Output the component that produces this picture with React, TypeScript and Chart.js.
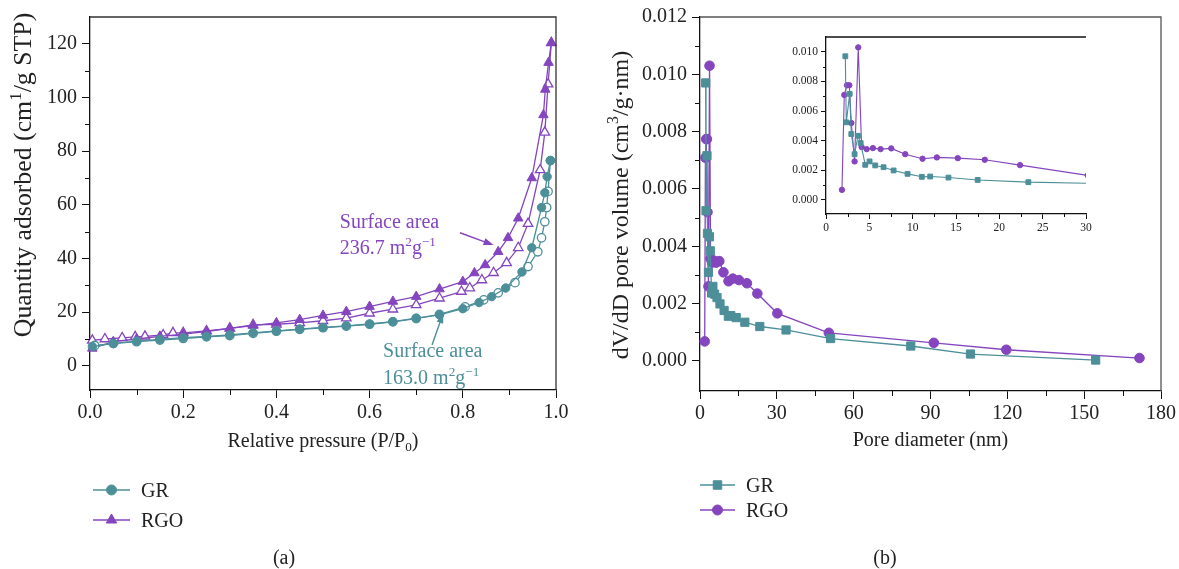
import React, { useEffect, useRef } from 'react';
import { Chart, registerables } from 'chart.js';
Chart.register(...registerables);

// ---------- Panel (a): N2 adsorption-desorption isotherms ----------
const grAdsP = [0.005, 0.05, 0.1, 0.15, 0.2, 0.25, 0.3, 0.35, 0.4, 0.45, 0.5, 0.55, 0.6, 0.65, 0.7, 0.75, 0.8, 0.835, 0.862, 0.892, 0.927, 0.948, 0.969, 0.976, 0.981, 0.988];
const grAdsQ = [7.2, 8.4, 9.2, 9.9, 10.5, 11.0, 11.5, 12.3, 13.0, 13.7, 14.3, 14.9, 15.6, 16.5, 17.8, 19.0, 21.3, 23.6, 25.8, 29.0, 35.0, 44.0, 59.0, 64.5, 70.5, 76.5];
const grDesP = [0.988, 0.983, 0.98, 0.976, 0.969, 0.961, 0.94, 0.912, 0.876, 0.845, 0.805, 0.75, 0.7, 0.65, 0.6, 0.55, 0.5, 0.45, 0.4, 0.35, 0.3, 0.25, 0.2, 0.15, 0.1, 0.05, 0.01];
const grDesQ = [76.5, 65.0, 59.0, 53.7, 47.7, 42.5, 37.0, 31.0, 27.2, 24.6, 22.0, 19.2, 17.6, 16.4, 15.5, 14.8, 14.2, 13.6, 12.9, 12.1, 11.3, 10.8, 10.2, 9.6, 9.0, 8.3, 7.6];
const rgoAdsP = [0.005, 0.05, 0.1, 0.15, 0.2, 0.25, 0.3, 0.35, 0.4, 0.45, 0.5, 0.55, 0.6, 0.65, 0.7, 0.75, 0.8, 0.825, 0.848, 0.876, 0.897, 0.919, 0.948, 0.973, 0.977, 0.984, 0.99];
const rgoAdsQ = [6.5, 9.0, 10.0, 11.0, 11.8, 12.8, 14.0, 15.0, 16.0, 17.2, 18.8, 20.2, 22.1, 24.0, 25.8, 28.6, 31.4, 34.6, 37.6, 42.5, 47.7, 55.0, 70.0, 93.5, 103.0, 113.0, 120.4];
const rgoDesP = [0.99, 0.983, 0.976, 0.966, 0.94, 0.919, 0.894, 0.866, 0.841, 0.815, 0.797, 0.75, 0.7, 0.65, 0.6, 0.55, 0.5, 0.45, 0.4, 0.35, 0.3, 0.25, 0.2, 0.178, 0.157, 0.118, 0.097, 0.069, 0.032, 0.005];
const rgoDesQ = [120.4, 105.0, 87.0, 73.0, 53.0, 44.0, 38.4, 34.7, 32.0, 29.0, 27.7, 25.2, 22.7, 21.1, 19.6, 17.8, 16.8, 16.0, 15.5, 15.3, 14.0, 13.0, 12.3, 12.3, 11.5, 11.0, 10.8, 10.4, 10.0, 9.5];

// ---------- Panel (b): pore size distribution ----------
const grPoreD = [2.23, 2.34, 2.73, 2.92, 3.3, 3.69, 4.0, 4.53, 5.03, 5.68, 6.64, 7.8, 9.41, 11.06, 12.02, 14.13, 17.5, 23.35, 33.6, 51.0, 82.3, 105.6, 154.5];
const grPoreV = [0.0097, 0.00524, 0.00716, 0.00445, 0.00309, 0.00433, 0.00384, 0.00237, 0.0026, 0.00233, 0.00221, 0.00199, 0.00176, 0.00156, 0.00158, 0.00151, 0.00135, 0.0012, 0.00108, 0.00078, 0.00052, 0.00024, 0.00003];
const rgoPoreD = [1.84, 2.11, 2.42, 2.69, 2.92, 3.3, 3.72, 4.11, 4.69, 5.41, 6.3, 7.53, 9.14, 11.14, 12.79, 15.21, 18.32, 22.39, 30.2, 50.3, 91.3, 119.6, 171.6];
const rgoPoreV = [0.00068, 0.00709, 0.00774, 0.00774, 0.00519, 0.0026, 0.0103, 0.00357, 0.00343, 0.0035, 0.00343, 0.00348, 0.00309, 0.00278, 0.00287, 0.00282, 0.00271, 0.00235, 0.00166, 0.00098, 0.00063, 0.00039, 0.0001];

// ---------- ticks ----------
const aXTicks = [0, 0.2, 0.4, 0.6, 0.8, 1.0];
const aXMinor = [0.1, 0.3, 0.5, 0.7, 0.9];
const aYTicks = [0, 20, 40, 60, 80, 100, 120];
const aYMinor = [10, 30, 50, 70, 90, 110];
const bXTicks = [0, 30, 60, 90, 120, 150, 180];
const bXMinor = [15, 45, 75, 105, 135, 165];
const bYTicks = [0, 0.002, 0.004, 0.006, 0.008, 0.01, 0.012];
const bYMinor = [0.001, 0.003, 0.005, 0.007, 0.009, 0.011];
const iXTicks = [0, 5, 10, 15, 20, 25, 30];
const iXMinor = [2.5, 7.5, 12.5, 17.5, 22.5, 27.5];
const iYTicks = [0, 0.002, 0.004, 0.006, 0.008, 0.01];
const iYMinor = [0.001, 0.003, 0.005, 0.007, 0.009];

const seriesNames = ['GR', 'RGO'];

const GR_COLOR = '#4d8f99';
const RGO_COLOR = '#8445be';
const FONT = '"Liberation Serif", "DejaVu Serif", serif';
const TEXT = '#222';

type Seg = { t: string; s?: 'sup' | 'sub' };

const toXY = (xs: number[], ys: number[]) => xs.map((x, i) => ({ x, y: ys[i] }));

function drawRich(ctx: CanvasRenderingContext2D, segs: Seg[], x: number, y: number, size: number, color: string, align: 'left' | 'center', rot = 0) {
  ctx.save();
  ctx.translate(x, y);
  ctx.rotate(rot);
  let w = 0;
  const parts = segs.map((sg) => {
    const fs = sg.s ? size * 0.66 : size;
    ctx.font = `${fs}px ${FONT}`;
    const mw = ctx.measureText(sg.t).width;
    w += mw;
    return { sg, fs, mw };
  });
  let cx = align === 'center' ? -w / 2 : 0;
  ctx.fillStyle = color;
  ctx.textAlign = 'left';
  ctx.textBaseline = 'alphabetic';
  for (const p of parts) {
    ctx.font = `${p.fs}px ${FONT}`;
    const dy = p.sg.s === 'sup' ? -size * 0.4 : p.sg.s === 'sub' ? size * 0.22 : 0;
    ctx.fillText(p.sg.t, cx, dy);
    cx += p.mw;
  }
  ctx.restore();
}

function drawMarker(ctx: CanvasRenderingContext2D, style: string, x: number, y: number, r: number, fill: string, stroke: string) {
  ctx.beginPath();
  if (style === 'circle') ctx.arc(x, y, r, 0, Math.PI * 2);
  else if (style === 'triangle') {
    ctx.moveTo(x, y - r);
    ctx.lineTo(x - r * 0.866, y + r * 0.5);
    ctx.lineTo(x + r * 0.866, y + r * 0.5);
    ctx.closePath();
  } else {
    const s = r * Math.SQRT1_2;
    ctx.rect(x - s, y - s, 2 * s, 2 * s);
  }
  ctx.fillStyle = fill;
  ctx.fill();
  ctx.strokeStyle = stroke;
  ctx.lineWidth = 1;
  ctx.stroke();
}

function drawArrow(ctx: CanvasRenderingContext2D, x1: number, y1: number, x2: number, y2: number, color: string) {
  const ang = Math.atan2(y2 - y1, x2 - x1);
  const hl = 10, hw = 3.5;
  ctx.save();
  ctx.strokeStyle = color;
  ctx.fillStyle = color;
  ctx.lineWidth = 1.4;
  ctx.beginPath();
  ctx.moveTo(x1, y1);
  ctx.lineTo(x2 - Math.cos(ang) * hl * 0.8, y2 - Math.sin(ang) * hl * 0.8);
  ctx.stroke();
  ctx.beginPath();
  ctx.moveTo(x2, y2);
  ctx.lineTo(x2 - Math.cos(ang) * hl - Math.sin(ang) * hw, y2 - Math.sin(ang) * hl + Math.cos(ang) * hw);
  ctx.lineTo(x2 - Math.cos(ang) * hl + Math.sin(ang) * hw, y2 - Math.sin(ang) * hl - Math.cos(ang) * hw);
  ctx.closePath();
  ctx.fill();
  ctx.restore();
}

function minorTicks(ctx: CanvasRenderingContext2D, scale: any, values: number[], len: number, color: string) {
  ctx.save();
  ctx.strokeStyle = color;
  ctx.lineWidth = 1;
  ctx.beginPath();
  for (const v of values) {
    const p = Math.round(scale.getPixelForValue(v)) + 0.5;
    if (scale.axis === 'x') {
      ctx.moveTo(p, scale.top);
      ctx.lineTo(p, scale.top + len);
    } else {
      ctx.moveTo(scale.right, p);
      ctx.lineTo(scale.right - len, p);
    }
  }
  ctx.stroke();
  ctx.restore();
}

function frame(ctx: CanvasRenderingContext2D, ca: any, color: string, right = true) {
  ctx.save();
  ctx.strokeStyle = color;
  ctx.lineWidth = 1.3;
  ctx.beginPath();
  ctx.moveTo(ca.left, ca.top);
  ctx.lineTo(ca.right, ca.top);
  if (right) ctx.lineTo(ca.right, ca.bottom);
  ctx.stroke();
  ctx.restore();
}

function legendRow(ctx: CanvasRenderingContext2D, x: number, y: number, w: number, color: string, style: string, r: number, label: string) {
  ctx.save();
  ctx.strokeStyle = color;
  ctx.lineWidth = 1.4;
  ctx.beginPath();
  ctx.moveTo(x, y);
  ctx.lineTo(x + w, y);
  ctx.stroke();
  drawMarker(ctx, style, x + w / 2, y, r, color, color);
  ctx.restore();
  drawRich(ctx, [{ t: label }], x + w + 11, y + 7, 20, TEXT, 'left');
}

function axisCfg(min: number, max: number, ticks: number[], fmt: (v: number) => string, fontSize: number, tickLen: number, fitSize: number, pad: number) {
  return {
    type: 'linear' as const,
    min,
    max,
    afterBuildTicks: (s: any) => {
      s.ticks = ticks.map((v) => ({ value: v }));
    },
    afterFit: (s: any) => {
      if (s.axis === 'x') s.height = fitSize;
      else s.width = fitSize;
    },
    grid: { drawOnChartArea: false, drawTicks: true, tickLength: tickLen, tickColor: '#111', tickWidth: 1 },
    border: { display: true, color: '#111', width: 1.3 },
    ticks: { font: { family: FONT, size: fontSize }, color: TEXT, padding: pad, maxRotation: 0, autoSkip: false, callback: (v: any) => fmt(Number(v)) },
  };
}

const surfaceNotes = [
  { name: 'RGO', value: '236.7', color: RGO_COLOR, textP: 0.536, textQ1: 51.5, textQ2: 41.8, arrowFrom: [0.794, 49.6], arrowTo: [0.866, 45.0] },
  { name: 'GR', value: '163.0', color: GR_COLOR, textP: 0.629, textQ1: 3.3, textQ2: -6.7, arrowFrom: [0.734, 7.8], arrowTo: [0.758, 19.6] },
];

export default function App() {
  const refA = useRef<HTMLCanvasElement>(null);
  const refB = useRef<HTMLCanvasElement>(null);
  const refI = useRef<HTMLCanvasElement>(null);

  useEffect(() => {
    const lineDs = (label: string, data: any[], color: string, style: string, r: number, open: boolean) => ({
      label,
      data,
      borderColor: color,
      backgroundColor: color,
      borderWidth: 1.3,
      pointStyle: style,
      pointRadius: r,
      pointBorderWidth: open ? 1.3 : 1,
      pointBorderColor: color,
      pointBackgroundColor: open ? '#ffffff' : color,
      tension: 0,
      fill: false,
      clip: false as any,
    });

    const decorA = {
      id: 'decorA',
      afterDraw(chart: any) {
        const { ctx, chartArea: ca, scales } = chart;
        const x = scales.x, y = scales.y;
        frame(ctx, ca, '#333');
        minorTicks(ctx, x, aXMinor, 5, '#111');
        minorTicks(ctx, y, aYMinor, 5, '#111');
        drawRich(ctx, [{ t: 'Relative pressure (P/P' }, { t: '0', s: 'sub' }, { t: ')' }], (ca.left + ca.right) / 2, 447, 20, TEXT, 'center');
        drawRich(ctx, [{ t: 'Quantity adsorbed (cm' }, { t: '1', s: 'sup' }, { t: '/g STP)' }], 31, 175, 25.8, TEXT, 'center', -Math.PI / 2);
        for (const n of surfaceNotes) {
          const tx = x.getPixelForValue(n.textP);
          drawRich(ctx, [{ t: 'Surface area' }], tx, y.getPixelForValue(n.textQ1), 20, n.color, 'left');
          drawRich(ctx, [{ t: n.value + ' m' }, { t: '2', s: 'sup' }, { t: 'g' }, { t: '\u22121', s: 'sup' }], tx, y.getPixelForValue(n.textQ2), 20, n.color, 'left');
          drawArrow(ctx, x.getPixelForValue(n.arrowFrom[0]), y.getPixelForValue(n.arrowFrom[1]), x.getPixelForValue(n.arrowTo[0]), y.getPixelForValue(n.arrowTo[1]), n.color);
        }
        legendRow(ctx, 93, 490, 37, GR_COLOR, 'circle', 5, seriesNames[0]);
        legendRow(ctx, 93, 520, 37, RGO_COLOR, 'triangle', 6, seriesNames[1]);
        drawRich(ctx, [{ t: '(a)' }], 284, 564, 20, TEXT, 'center');
      },
    };

    const decorB = {
      id: 'decorB',
      afterDraw(chart: any) {
        const { ctx, chartArea: ca, scales } = chart;
        frame(ctx, ca, '#555');
        minorTicks(ctx, scales.x, bXMinor, 5, '#111');
        minorTicks(ctx, scales.y, bYMinor, 5, '#111');
        drawRich(ctx, [{ t: 'Pore diameter (nm)' }], (ca.left + ca.right) / 2, 446, 20, TEXT, 'center');
        drawRich(ctx, [{ t: 'dV/dD pore volume (cm' }, { t: '3', s: 'sup' }, { t: '/g\u00b7nm)' }], 28, 205, 24, TEXT, 'center', -Math.PI / 2);
        legendRow(ctx, 100, 485, 35, GR_COLOR, 'rect', 6, seriesNames[0]);
        legendRow(ctx, 100, 510, 35, RGO_COLOR, 'circle', 5, seriesNames[1]);
        drawRich(ctx, [{ t: '(b)' }], 285, 564, 20, TEXT, 'center');
      },
    };

    const decorI = {
      id: 'decorI',
      afterDraw(chart: any) {
        const { ctx, chartArea: ca, scales } = chart;
        frame(ctx, ca, '#111', false);
        minorTicks(ctx, scales.x, iXMinor, 3, '#111');
        minorTicks(ctx, scales.y, iYMinor, 3, '#111');
      },
    };

    const chartA = new Chart(refA.current!, {
      type: 'line',
      data: {
        datasets: [
          lineDs('GR', toXY(grAdsP, grAdsQ), GR_COLOR, 'circle', 4.2, false),
          lineDs('GR desorption', toXY(grDesP, grDesQ), GR_COLOR, 'circle', 4.2, true),
          lineDs('RGO', toXY(rgoAdsP, rgoAdsQ), RGO_COLOR, 'triangle', 5.5, false),
          lineDs('RGO desorption', toXY(rgoDesP, rgoDesQ), RGO_COLOR, 'triangle', 5.5, true),
        ] as any,
      },
      options: {
        animation: false,
        responsive: false,
        events: [],
        layout: { padding: { left: 0, top: 17, right: 44, bottom: 0 } },
        plugins: { legend: { display: false }, tooltip: { enabled: false } },
        scales: {
          x: axisCfg(0, 1, aXTicks, (v) => v.toFixed(1), 20, 8, 179, 3) as any,
          y: axisCfg(-9, 130, aYTicks, (v) => String(Math.round(v)), 20, 8, 90, 5) as any,
        },
      },
      plugins: [decorA],
    });

    const chartB = new Chart(refB.current!, {
      type: 'line',
      data: {
        datasets: [
          lineDs('GR', toXY(grPoreD, grPoreV), GR_COLOR, 'rect', 5.8, false),
          lineDs('RGO', toXY(rgoPoreD, rgoPoreV), RGO_COLOR, 'circle', 4.8, false),
        ] as any,
      },
      options: {
        animation: false,
        responsive: false,
        events: [],
        layout: { padding: { left: 0, top: 16, right: 14, bottom: 0 } },
        plugins: { legend: { display: false }, tooltip: { enabled: false } },
        scales: {
          x: axisCfg(0, 180, bXTicks, (v) => String(Math.round(v)), 20, 8, 178, 3) as any,
          y: axisCfg(-0.00105, 0.012, bYTicks, (v) => v.toFixed(3), 20, 8, 100, 5) as any,
        },
      },
      plugins: [decorB],
    });

    const insetDs = (label: string, data: any[], color: string, style: string, r: number) => ({
      label,
      data,
      borderColor: color,
      backgroundColor: color,
      borderWidth: 1.1,
      pointStyle: style,
      pointRadius: r,
      pointBorderWidth: 1,
      pointBorderColor: color,
      pointBackgroundColor: color,
      tension: 0,
      fill: false,
    });

    const chartI = new Chart(refI.current!, {
      type: 'line',
      data: {
        datasets: [
          insetDs('GR', toXY(grPoreD, grPoreV), GR_COLOR, 'rect', 3.4),
          insetDs('RGO', toXY(rgoPoreD, rgoPoreV), RGO_COLOR, 'circle', 2.7),
        ] as any,
      },
      options: {
        animation: false,
        responsive: false,
        events: [],
        layout: { padding: { left: 0, top: 12, right: 14, bottom: 0 } },
        plugins: { legend: { display: false }, tooltip: { enabled: false } },
        scales: {
          x: axisCfg(0, 30, iXTicks, (v) => String(Math.round(v)), 11.5, 5, 31, 2) as any,
          y: axisCfg(-0.00095, 0.011, iYTicks, (v) => v.toFixed(3), 11.5, 5, 66, 3) as any,
        },
      },
      plugins: [decorI],
    });

    return () => {
      chartA.destroy();
      chartB.destroy();
      chartI.destroy();
    };
  }, []);

  return (
    <div style={{ position: 'absolute', left: 0, top: 0, width: 1179, height: 569, background: '#ffffff', overflow: 'hidden' }}>
      <canvas ref={refA} width={600} height={569} style={{ position: 'absolute', left: 0, top: 0, width: 600, height: 569 }} />
      <canvas ref={refB} width={579} height={569} style={{ position: 'absolute', left: 600, top: 0, width: 579, height: 569 }} />
      <canvas ref={refI} width={340} height={220} style={{ position: 'absolute', left: 760, top: 25, width: 340, height: 220 }} />
    </div>
  );
}
